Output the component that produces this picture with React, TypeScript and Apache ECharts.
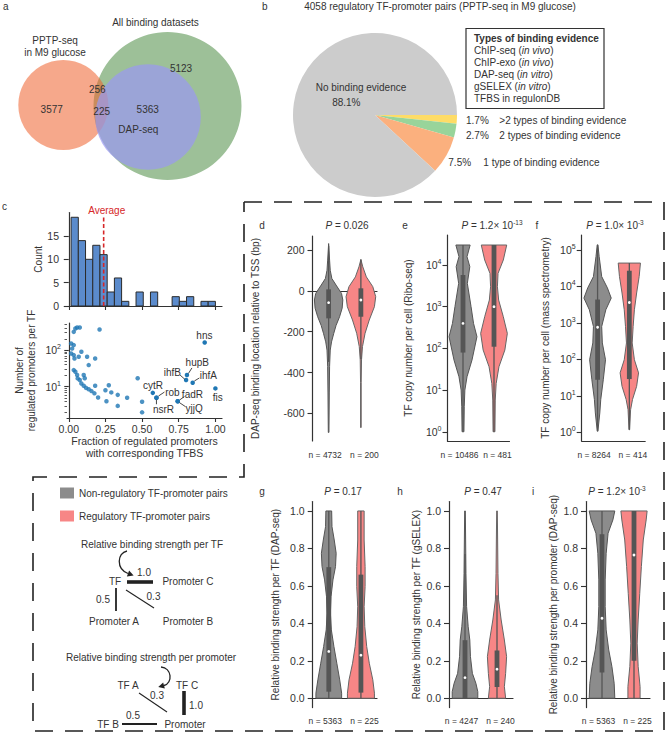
import React, { useEffect, useRef } from 'react';
import * as echarts from 'echarts';

const FONT = '"Liberation Sans", Arial, Helvetica, sans-serif';
const TXT = '#333333';
const AX = '#333333';
const GRAY = '#8c8c8c';
const PINK = '#f78686';

// ---------- a: Venn ----------
const vennSetNames = ['PPTP-seq\nin M9 glucose', 'All binding datasets', 'DAP-seq'];
// regions: PPTP only, PPTP∩All (not DAP), PPTP∩DAP, All only, DAP only
const vennRegionValues = [3577, 256, 225, 5123, 5363];

// ---------- b: pie ----------
const pieTitle = '4058 regulatory TF-promoter pairs (PPTP-seq in M9 glucose)';
const pieCategories = ['>2 types of binding evidence', '2 types of binding evidence', '1 type of binding evidence', 'No binding evidence'];
const piePercents = [1.7, 2.7, 7.5, 88.1];
const evidenceTypes = ['ChIP-seq', 'ChIP-exo', 'DAP-seq', 'gSELEX', 'TFBS in regulonDB'];
const evidenceModes = ['in vivo', 'in vivo', 'in vitro', 'in vitro', ''];

// ---------- c: histogram + scatter ----------
const histCounts = [19, 14, 10, 13, 11, 3, 6, 1, 0, 3, 0, 3, 0, 0, 2, 1, 2, 0, 1, 1];
const histBinStart = 0.016;
const histBinWidth = 0.0492;
const histAverage = 0.238;
const histYTicks = [0, 5, 10, 15];
const fracTicks = [0, 0.25, 0.5, 0.75, 1.0];
const scatterX = [0.016, 0.023, 0.034, 0.016, 0.034, 0.039, 0.068, 0.086, 0.125, 0.136, 0.18, 0.034, 0.045, 0.057, 0.075, 0.21,
  0.034, 0.045, 0.057, 0.061, 0.075, 0.086, 0.102, 0.118, 0.136, 0.155, 0.175, 0.102, 0.109, 0.18, 0.2, 0.25, 0.257, 0.273,
  0.29, 0.334, 0.334, 0.398, 0.47, 0.5, 0.5];
const scatterY = [152, 110, 137, 81, 73, 59, 66, 90, 66, 39, 59, 315, 390, 415, 415, 365,
  28.5, 25.6, 20.9, 16.9, 15.2, 12.3, 10.6, 9.3, 8.5, 7.6, 6.6, 21, 17, 10.6, 5.1, 8, 4, 11,
  7.0, 6.0, 3.0, 5.0, 17, 3.9, 2.0];
const labeledNames = ['hns', 'hupB', 'ihfB', 'ihfA', 'cytR', 'rob', 'nsrR', 'fadR', 'yjjQ', 'fis'];
const labeledX = [0.927, 0.806, 0.8, 0.845, 0.573, 0.598, 0.598, 0.743, 0.743, 1.0];
const labeledY = [162, 21, 15.2, 12.9, 6.8, 5.0, 5.0, 4.0, 4.0, 9.0];
const scatterYTicks = [10, 100];
const scatterMinorTicks = [2, 3, 4, 5, 6, 7, 8, 9, 20, 30, 40, 50, 60, 70, 80, 90, 200, 300, 400, 500];

// ---------- d ----------
const dCats = ['n = 4732', 'n = 200'];
const dGrayY = [231, 150, 100, 60, 28, -13, -45, -85, -127, -170, -208, -250, -290, -370, -500, -693];
const dGrayW = [0, 0.03, 0.05, 0.1, 0.23, 0.4, 0.44, 0.42, 0.34, 0.23, 0.16, 0.09, 0.05, 0.03, 0.02, 0.01];
const dGrayBox = [-348, -135, -58, 7, 220];
const dPinkY = [153, 117, 68, 20, -29, -78, -143, -208, -273, -338, -450, -669];
const dPinkW = [0, 0.06, 0.17, 0.37, 0.46, 0.42, 0.26, 0.13, 0.05, 0.02, 0.01, 0.01];
const dPinkBox = [-335, -127, -45, 12, 153];
const dTicks = [-600, -400, -200, 0, 200];

// ---------- e (log10 values) ----------
const eCats = ['n = 10486', 'n = 481'];
const eGrayLogY = [4.48, 4.2, 3.96, 3.56, 3.0, 2.6, 2.28, 1.72, 1.32, 1.0, 0.6, 0.0];
const eGrayW = [0.23, 0.13, 0.22, 0.14, 0.26, 0.34, 0.45, 0.29, 0.13, 0.06, 0.04, 0.03];
const eGrayBox = [0.0, 1.9, 2.6, 3.76, 4.48];
const ePinkLogY = [4.48, 4.12, 3.8, 3.48, 3.16, 2.76, 2.36, 1.96, 1.56, 1.16, 0.76, 0.0];
const ePinkW = [0.41, 0.3, 0.13, 0.11, 0.15, 0.3, 0.43, 0.35, 0.16, 0.07, 0.04, 0.03];
const ePinkBox = [0.0, 2.04, 3.0, 4.48, 4.48];
const eTicks = [1, 10, 100, 1000, 10000];

// ---------- f (log10 values) ----------
const fCats = ['n = 8264', 'n = 414'];
const fGrayLogY = [5.14, 4.82, 4.27, 3.96, 3.68, 3.36, 2.9, 2.45, 1.99, 1.44, 0.9, 0.53, 0.03];
const fGrayW = [0.01, 0.05, 0.13, 0.31, 0.43, 0.26, 0.13, 0.15, 0.25, 0.18, 0.1, 0.07, 0.01];
const fGrayBox = [0.03, 1.44, 2.88, 3.64, 5.14];
const fPinkLogY = [4.64, 4.27, 3.82, 3.36, 2.9, 2.45, 1.99, 1.63, 1.26, 0.9, 0.62, 0.07];
const fPinkW = [0.35, 0.31, 0.23, 0.16, 0.12, 0.09, 0.16, 0.29, 0.23, 0.1, 0.04, 0.01];
const fPinkBox = [0.07, 1.46, 3.56, 4.43, 4.64];
const fTicks = [1, 10, 100, 1000, 10000, 100000];

// ---------- g ----------
const gCats = ['n = 5363', 'n = 225'];
const gGrayY = [1.0, 0.916, 0.845, 0.774, 0.703, 0.632, 0.542, 0.454, 0.365, 0.276, 0.187, 0.098, 0.027, 0.0];
const gGrayW = [0.09, 0.1, 0.17, 0.23, 0.21, 0.13, 0.07, 0.05, 0.08, 0.16, 0.25, 0.34, 0.4, 0.4];
const gGrayBox = [0, 0.035, 0.25, 0.7, 1.0];
const gPinkY = [1.0, 0.845, 0.703, 0.596, 0.489, 0.382, 0.276, 0.187, 0.098, 0.027, 0.0];
const gPinkW = [0.1, 0.1, 0.13, 0.13, 0.1, 0.12, 0.18, 0.26, 0.37, 0.42, 0.42];
const gPinkBox = [0, 0.03, 0.23, 0.66, 1.0];

// ---------- h ----------
const hCats = ['n = 4247', 'n = 240'];
const hGrayY = [1.0, 0.845, 0.667, 0.489, 0.382, 0.311, 0.222, 0.133, 0.08, 0.035, 0.0];
const hGrayW = [0.01, 0.02, 0.03, 0.05, 0.1, 0.15, 0.17, 0.23, 0.34, 0.4, 0.4];
const hGrayBox = [0, 0, 0.11, 0.31, 0.77];
const hPinkY = [1.0, 0.845, 0.667, 0.525, 0.418, 0.311, 0.222, 0.133, 0.062, 0.0];
const hPinkW = [0.01, 0.02, 0.03, 0.05, 0.13, 0.23, 0.3, 0.27, 0.23, 0.27];
const hPinkBox = [0, 0.06, 0.155, 0.255, 0.55];

// ---------- i ----------
const iCats = ['n = 5363', 'n = 225'];
const iGrayY = [1.0, 0.952, 0.881, 0.774, 0.632, 0.489, 0.365, 0.258, 0.169, 0.08, 0.0];
const iGrayW = [0.4, 0.34, 0.19, 0.13, 0.1, 0.1, 0.13, 0.21, 0.31, 0.38, 0.4];
const iGrayBox = [0, 0.137, 0.427, 0.876, 1.0];
const iPinkY = [1.0, 0.952, 0.845, 0.703, 0.56, 0.418, 0.294, 0.169, 0.062, 0.0];
const iPinkW = [0.41, 0.38, 0.29, 0.23, 0.18, 0.13, 0.1, 0.13, 0.19, 0.19];
const iPinkBox = [0, 0.2, 0.765, 1.0, 1.0];
const fracStrengthTicks = [0, 0.2, 0.4, 0.6, 0.8, 1.0];

// diagram edge weights
const perTfWeights = [1.0, 0.5, 0.3];
const perPromoterWeights = [1.0, 0.3, 0.5];

const NONREG = 'Non-regulatory TF-promoter pairs';
const REG = 'Regulatory TF-promoter pairs';

const richBase = {
  it: { fontStyle: 'italic', fontSize: 10, fontFamily: FONT, fill: TXT, color: TXT },
  sup: { fontSize: 6.5, fontFamily: FONT, fill: TXT, color: TXT, padding: [0, 0, 6, 0] },
  b: { fontWeight: 'bold', fontSize: 10, fontFamily: FONT, fill: TXT, color: TXT },
  n: { fontSize: 10, fontFamily: FONT, fill: TXT, color: TXT },
};

function T(text: string, x: number, y: number, extra: any = {}) {
  return {
    type: 'text', x, y, silent: true, z: 50,
    style: { text, fill: TXT, fontSize: 10, fontFamily: FONT, align: 'center', verticalAlign: 'middle', rich: richBase, ...extra },
  };
}

function L(x1: number, y1: number, x2: number, y2: number, w: number, color = '#222') {
  return { type: 'line', silent: true, z: 50, shape: { x1, y1, x2, y2 }, style: { stroke: color, lineWidth: w } };
}

function arrow(s: number[], c1: number[], c2: number[], e: number[]) {
  const dx = e[0] - c2[0], dy = e[1] - c2[1];
  const len = Math.sqrt(dx * dx + dy * dy);
  const ux = dx / len, uy = dy / len;
  const px = -uy, py = ux;
  const tip = [e[0] + ux * 6, e[1] + uy * 6];
  return [
    { type: 'bezierCurve', silent: true, z: 50, shape: { x1: s[0], y1: s[1], cpx1: c1[0], cpy1: c1[1], cpx2: c2[0], cpy2: c2[1], x2: e[0], y2: e[1] }, style: { stroke: '#222', lineWidth: 1.3, fill: null } },
    { type: 'polygon', silent: true, z: 50, shape: { points: [tip, [e[0] + px * 3.2, e[1] + py * 3.2], [e[0] - px * 3.2, e[1] - py * 3.2]] }, style: { fill: '#222' } },
  ];
}

function violin(name: string, xi: number, cat: number, ys: number[], ws: number[], box: number[], isLog: boolean, fill: string, stroke: string) {
  const tv = (v: number) => (isLog ? Math.pow(10, v) : v);
  return {
    type: 'custom', name, xAxisIndex: xi, yAxisIndex: xi, clip: false, silent: true,
    itemStyle: { color: fill },
    encode: { x: 0, y: 1 },
    data: [[cat, tv(box[2])]],
    renderItem: (params: any, api: any) => {
      const a0 = api.coord([0, tv(box[2])]);
      const a1 = api.coord([1, tv(box[2])]);
      const bw = a1[0] - a0[0];
      const pts: number[][] = [];
      for (let i = 0; i < ys.length; i++) {
        const p = api.coord([cat, tv(ys[i])]);
        pts.push([p[0] + ws[i] * bw, p[1]]);
      }
      for (let i = ys.length - 1; i >= 0; i--) {
        const p = api.coord([cat, tv(ys[i])]);
        pts.push([p[0] - ws[i] * bw, p[1]]);
      }
      const lo = api.coord([cat, tv(box[0])]);
      const q1 = api.coord([cat, tv(box[1])]);
      const md = api.coord([cat, tv(box[2])]);
      const q3 = api.coord([cat, tv(box[3])]);
      const hi = api.coord([cat, tv(box[4])]);
      const x = md[0];
      return {
        type: 'group',
        children: [
          { type: 'polygon', shape: { points: pts }, style: { fill, stroke, lineWidth: 1 } },
          { type: 'line', shape: { x1: x, y1: lo[1], x2: x, y2: hi[1] }, style: { stroke: '#555', lineWidth: 1.3 } },
          { type: 'rect', shape: { x: x - 2.4, y: q3[1], width: 4.8, height: Math.max(q1[1] - q3[1], 0.5) }, style: { fill: '#555' } },
          { type: 'circle', shape: { cx: x, cy: md[1], r: 1.4 }, style: { fill: '#fff' } },
        ],
      };
    },
  };
}

const axisLine = { show: true, lineStyle: { color: AX, width: 1.2 } };
const tickStyle = { color: AX, width: 1.1 };
const supFmt = (v: number) => '10{sup|' + Math.round(Math.log10(v)) + '}';
const labelRich = {
  sup: { fontSize: 7, fontFamily: FONT, color: TXT, padding: [0, 0, 7, 0] },
};

function vx(gi: number, cats: string[]) {
  return {
    type: 'category', gridIndex: gi, data: cats, boundaryGap: true,
    axisLine, axisTick: { show: false },
    axisLabel: {
      interval: 0, fontSize: 8.5, color: TXT, fontFamily: FONT, margin: 9,
      formatter: (v: string, idx: number) => (idx === 0 ? '{l|' + v + '}' : '{r|' + v + '}'),
      rich: {
        l: { fontSize: 8.5, fontFamily: FONT, color: TXT, padding: [0, 7, 0, 0] },
        r: { fontSize: 8.5, fontFamily: FONT, color: TXT, padding: [0, 0, 0, 7] },
      },
    },
    splitLine: { show: false },
  };
}

function vyLin(gi: number, min: number, max: number, ticks: number[], name: string, gap: number, fmt?: any) {
  return {
    type: 'value', gridIndex: gi, min, max,
    axisLine, axisTick: { show: true, length: 5, lineStyle: tickStyle, customValues: ticks },
    axisLabel: { customValues: ticks, fontSize: 10.5, color: TXT, fontFamily: FONT, margin: 8, formatter: fmt },
    splitLine: { show: false },
    name, nameLocation: 'middle', nameGap: gap,
    nameTextStyle: { fontSize: 10, color: TXT, fontFamily: FONT },
  };
}

function vyLog(gi: number, min: number, max: number, ticks: number[], name: string, gap: number) {
  return {
    type: 'log', logBase: 10, gridIndex: gi, min, max,
    axisLine, axisTick: { show: true, length: 5, lineStyle: tickStyle, customValues: ticks },
    axisLabel: { customValues: ticks, fontSize: 10.5, color: TXT, fontFamily: FONT, margin: 6, formatter: supFmt, rich: labelRich },
    splitLine: { show: false },
    name, nameLocation: 'middle', nameGap: gap,
    nameTextStyle: { fontSize: 10, color: TXT, fontFamily: FONT },
  };
}

function buildOption() {
  // Venn radii proportional to sqrt(set size)
  const [r0, r1, r2, r3, r4] = vennRegionValues;
  const sizes = [r0 + r1 + r2, r1 + r2 + r3 + r4, r2 + r4];
  const k = 0.7064;
  const rad = sizes.map((s) => k * Math.sqrt(s));

  const grids = [
    { left: 67, top: 212.6, width: 155, height: 93.4 },
    { left: 67, top: 323, width: 155, height: 95 },
    { left: 312.5, top: 236, width: 64.5, height: 205 },
    { left: 447.5, top: 235, width: 62, height: 206 },
    { left: 581.7, top: 235, width: 63.5, height: 206 },
    { left: 312.7, top: 501.6, width: 64.3, height: 206 },
    { left: 449, top: 501.6, width: 64, height: 206 },
    { left: 586, top: 501.6, width: 64, height: 206 },
  ];

  const xAxes: any[] = [
    {
      type: 'value', gridIndex: 0, min: -0.012, max: 1.045, axisLine,
      axisTick: { show: true, length: 4, lineStyle: tickStyle, customValues: fracTicks },
      axisLabel: { show: false }, splitLine: { show: false },
    },
    {
      type: 'value', gridIndex: 1, min: -0.012, max: 1.045, axisLine,
      axisTick: { show: true, length: 4, lineStyle: tickStyle, customValues: fracTicks },
      axisLabel: { customValues: fracTicks, formatter: (v: number) => v.toFixed(2), fontSize: 10.5, color: TXT, fontFamily: FONT, margin: 5 },
      splitLine: { show: false },
      name: 'Fraction of regulated promoters\nwith corresponding TFBS', nameLocation: 'middle', nameGap: 17,
      nameTextStyle: { fontSize: 10.5, color: TXT, fontFamily: FONT, lineHeight: 12, verticalAlign: 'top' },
    },
    vx(2, dCats), vx(3, eCats), vx(4, fCats), vx(5, gCats), vx(6, hCats), vx(7, iCats),
  ];

  const yAxes: any[] = [
    vyLin(0, 0, 20, histYTicks, 'Count', 22),
    {
      type: 'log', logBase: 10, gridIndex: 1, min: 1.4, max: 550,
      axisLine, axisTick: { show: true, length: 4.5, lineStyle: tickStyle, customValues: scatterYTicks },
      axisLabel: { customValues: scatterYTicks, fontSize: 10.5, color: TXT, fontFamily: FONT, margin: 6, formatter: supFmt, rich: labelRich },
      splitLine: { show: false },
      name: 'Number of\nregulated promoters per TF', nameLocation: 'middle', nameGap: 30,
      nameTextStyle: { fontSize: 10, color: TXT, fontFamily: FONT, lineHeight: 12 },
    },
    vyLin(2, -735, 268, dTicks, 'DAP-seq binding location relative to TSS (bp)', 52),
    vyLog(3, 0.6, 52500, eTicks, 'TF copy number per cell (Ribo-seq)', 34),
    vyLog(4, 0.577, 257000, fTicks, 'TF copy number per cell (mass spectrometry)', 31),
    vyLin(5, -0.05, 1.05, fracStrengthTicks, 'Relative binding strength per TF (DAP-seq)', 32, (v: number) => v.toFixed(1)),
    vyLin(6, -0.05, 1.05, fracStrengthTicks, 'Relative binding strength per TF (gSELEX)', 28, (v: number) => v.toFixed(1)),
    vyLin(7, -0.05, 1.05, fracStrengthTicks, 'Relative binding strength per promoter (DAP-seq)', 28, (v: number) => v.toFixed(1)),
    {
      type: 'log', logBase: 10, gridIndex: 1, min: 1.4, max: 550, position: 'left', offset: 0,
      axisLine: { show: false },
      axisTick: { show: true, length: 2.5, lineStyle: { color: AX, width: 0.8 }, customValues: scatterMinorTicks },
      axisLabel: { show: false }, splitLine: { show: false },
    },
  ];

  const histData = histCounts.map((c, i) => [histBinStart + i * histBinWidth, histBinStart + (i + 1) * histBinWidth, c]);

  const labelOffsets = [[-0.3, -6.6], [10.3, -12], [-13.7, -8], [15.7, -6.7], [0.2, -7.7], [16, -5.7], [7, 11.6], [14.7, -6.7], [16.4, 7.6], [2.4, 9.4]];
  const leaders: (number[] | null)[] = [null, [1.5, -1.5, 5, -7], [-1.5, -1, -6, -5], [1.7, -1.7, 6.7, -4.7], null, [2, -1.7, 8, -5.7], [0, 2, 0, 6.5], [1.7, -1.2, 6.7, -4.7], [1.7, 1.3, 7.7, 5.3], null];

  const series: any[] = [
    {
      type: 'custom', name: 'hist', xAxisIndex: 0, yAxisIndex: 0, silent: true,
      encode: { x: [0, 1], y: 2 },
      data: histData,
      renderItem: (params: any, api: any) => {
        const c = api.value(2);
        if (!c) return null;
        const a = api.coord([api.value(0), c]);
        const b = api.coord([api.value(1), 0]);
        return { type: 'rect', shape: { x: a[0], y: a[1], width: b[0] - a[0], height: b[1] - a[1] }, style: { fill: '#5b8bcc', stroke: '#2b2b2b', lineWidth: 1 } };
      },
    },
    {
      type: 'line', name: 'avg', xAxisIndex: 0, yAxisIndex: 0, silent: true, symbol: 'none',
      data: [[histAverage, 0], [histAverage, 19.5]],
      lineStyle: { color: '#d62728', width: 1.6, type: [4, 2.5] }, z: 5,
    },
    {
      type: 'scatter', name: 'tfs', xAxisIndex: 1, yAxisIndex: 1, silent: true, symbolSize: 4.5,
      itemStyle: { color: '#1f77b4' },
      data: scatterX.map((x, i) => [x, scatterY[i]]),
    },
    {
      type: 'custom', name: 'labeled', xAxisIndex: 1, yAxisIndex: 1, silent: true, clip: false,
      encode: { x: 0, y: 1 },
      data: labeledX.map((x, i) => [x, labeledY[i], i]),
      renderItem: (params: any, api: any) => {
        const idx = api.value(2);
        const p = api.coord([api.value(0), api.value(1)]);
        const off = labelOffsets[idx];
        const ch: any[] = [
          { type: 'circle', shape: { cx: p[0], cy: p[1], r: 2.25 }, style: { fill: '#1f77b4' } },
          { type: 'text', x: p[0] + off[0], y: p[1] + off[1], style: { text: labeledNames[idx], fill: TXT, fontSize: 10, fontFamily: FONT, align: 'center', verticalAlign: 'middle' } },
        ];
        const ld = leaders[idx];
        if (ld) ch.push({ type: 'line', shape: { x1: p[0] + ld[0], y1: p[1] + ld[1], x2: p[0] + ld[2], y2: p[1] + ld[3] }, style: { stroke: '#333', lineWidth: 0.9 } });
        return { type: 'group', children: ch };
      },
    },
    violin(NONREG, 2, 0, dGrayY, dGrayW, dGrayBox, false, GRAY, '#555'),
    violin(REG, 2, 1, dPinkY, dPinkW, dPinkBox, false, PINK, '#666'),
    violin(NONREG, 3, 0, eGrayLogY, eGrayW, eGrayBox, true, GRAY, '#555'),
    violin(REG, 3, 1, ePinkLogY, ePinkW, ePinkBox, true, PINK, '#666'),
    violin(NONREG, 4, 0, fGrayLogY, fGrayW, fGrayBox, true, GRAY, '#555'),
    violin(REG, 4, 1, fPinkLogY, fPinkW, fPinkBox, true, PINK, '#666'),
    violin(NONREG, 5, 0, gGrayY, gGrayW, gGrayBox, false, GRAY, '#555'),
    violin(REG, 5, 1, gPinkY, gPinkW, gPinkBox, false, PINK, '#666'),
    violin(NONREG, 6, 0, hGrayY, hGrayW, hGrayBox, false, GRAY, '#555'),
    violin(REG, 6, 1, hPinkY, hPinkW, hPinkBox, false, PINK, '#666'),
    violin(NONREG, 7, 0, iGrayY, iGrayW, iGrayBox, false, GRAY, '#555'),
    violin(REG, 7, 1, iPinkY, iPinkW, iPinkBox, false, PINK, '#666'),
    {
      type: 'pie', name: 'evidence', center: [375, 115], radius: 82, startAngle: 0, clockwise: true, silent: true,
      label: { show: false }, labelLine: { show: false },
      itemStyle: { borderWidth: 0 },
      data: pieCategories.map((n, i) => ({ name: n, value: piePercents[i], itemStyle: { color: ['#fedc66', '#98d49a', '#fbb07e', '#cccccc'][i] } })),
    },
  ];

  const g: any[] = [];
  // Venn circles
  g.push({ type: 'circle', silent: true, z: 1, shape: { cx: 167.5, cy: 106, r: rad[1] }, style: { fill: 'rgb(157,192,152)' } });
  g.push({ type: 'circle', silent: true, z: 2, shape: { cx: 63.3, cy: 105, r: rad[0] }, style: { fill: 'rgba(239,97,43,0.55)' } });
  g.push({ type: 'circle', silent: true, z: 3, shape: { cx: 148, cy: 117, r: rad[2] }, style: { fill: 'rgba(154,153,242,0.7)' } });
  g.push(T('a', 3, 6, { align: 'left' }));
  g.push(T(vennSetNames[0], 55, 46, { lineHeight: 12 }));
  g.push(T(vennSetNames[1], 155.5, 22.7));
  g.push(T(vennSetNames[2], 138.3, 129.3));
  const regionPos = [[51.7, 109.3], [97.3, 89.3], [101.7, 111.7], [181, 68.3], [147.7, 109]];
  vennRegionValues.forEach((v, i) => g.push(T(String(v), regionPos[i][0], regionPos[i][1])));

  // b
  g.push(T('b', 262, 6, { align: 'left' }));
  g.push(T(pieTitle, 440, 6));
  g.push(T(pieCategories[3], 361, 87.3));
  g.push(T(piePercents[3].toFixed(1) + '%', 346.3, 102.7));
  const pieLabelPos = [[466, 499.3, 120.7], [466, 499.3, 135], [448.3, 483.3, 162.7]];
  for (let i = 0; i < 3; i++) {
    g.push(T(piePercents[i].toFixed(1) + '%', pieLabelPos[i][0], pieLabelPos[i][2], { align: 'left' }));
    g.push(T(pieCategories[i], pieLabelPos[i][1], pieLabelPos[i][2], { align: 'left' }));
  }
  g.push({ type: 'rect', silent: true, z: 40, shape: { x: 466, y: 28.5, width: 138, height: 80 }, style: { fill: '#fff', stroke: '#333', lineWidth: 1.2 } });
  g.push(T('{b|Types of binding evidence}', 474, 38.3, { align: 'left' }));
  evidenceTypes.forEach((t, i) => {
    const txt = evidenceModes[i] ? '{n|' + t + ' (}{it|' + evidenceModes[i] + '}{n|)}' : '{n|' + t + '}';
    g.push(T(txt, 474, 50.5 + i * 12, { align: 'left' }));
  });

  // c
  g.push(T('c', 2, 206.7, { align: 'left' }));
  g.push(T('Average', 106.7, 210.7, { fill: '#d62728' }));

  // d-i letters and P values
  const pTexts = [
    ['d', 262, 225, '{it|P} = 0.026', 347],
    ['e', 405, 225, '{it|P} = 1.2× 10{sup|-13}', 492],
    ['f', 537, 225, '{it|P} = 1.0× 10{sup|-3}', 615],
    ['g', 262, 491, '{it|P} = 0.17', 343],
    ['h', 400, 491, '{it|P} = 0.47', 483],
    ['i', 533, 491, '{it|P} = 1.2× 10{sup|-3}', 617],
  ];
  pTexts.forEach((p: any) => {
    g.push(T(p[0], p[1], p[2]));
    g.push(T(p[3], p[4], p[2]));
  });

  // dashed frame
  g.push({
    type: 'polyline', silent: true, z: 30,
    shape: { points: [[244, 202], [664, 202], [664, 731], [33, 731], [33, 477], [244, 477], [244, 202]] },
    style: { stroke: '#222', lineWidth: 1.6, lineDash: [18, 12], fill: null },
  });

  // diagrams
  g.push(T('Relative binding strength per TF', 152, 544));
  arrow([127, 551], [117, 553], [116, 569], [128, 573.5]).forEach((e) => g.push(e));
  g.push(T('TF', 115, 581));
  g.push(L(127, 582, 153, 582, perTfWeights[0] * 3.6));
  g.push(T(perTfWeights[0].toFixed(1), 144, 572));
  g.push(T('Promoter C', 188, 581));
  g.push(L(116, 588, 116, 611, perTfWeights[1] * 3.6));
  g.push(T(perTfWeights[1].toFixed(1), 103, 599));
  g.push(L(126, 590, 154, 608, Math.max(perTfWeights[2] * 3.6, 1)));
  g.push(T(perTfWeights[2].toFixed(1), 153.5, 596));
  g.push(T('Promoter A', 114, 621));
  g.push(T('Promoter B', 188, 621));

  g.push(T('Relative binding strength per promoter', 151, 657));
  arrow([161, 667], [172, 668], [173, 683], [164, 685.5]).forEach((e) => g.push(e));
  g.push(T('TF A', 128, 685));
  g.push(T('TF C', 187, 685));
  g.push(L(184, 691, 184, 715, perPromoterWeights[0] * 3.6));
  g.push(T(perPromoterWeights[0].toFixed(1), 196, 705));
  g.push(L(139, 693, 167, 712, Math.max(perPromoterWeights[1] * 3.6, 1)));
  g.push(T(perPromoterWeights[1].toFixed(1), 157, 695));
  g.push(T('TF B', 108, 724));
  g.push(L(122, 724, 157, 724, perPromoterWeights[2] * 3.6));
  g.push(T(perPromoterWeights[2].toFixed(1), 133, 715));
  g.push(T('Promoter', 185, 724));

  return {
    animation: false,
    backgroundColor: '#ffffff',
    textStyle: { fontFamily: FONT },
    grid: grids,
    xAxis: xAxes,
    yAxis: yAxes,
    legend: {
      data: [NONREG, REG], left: 55, top: 482.5, orient: 'vertical', icon: 'rect',
      itemWidth: 14, itemHeight: 11, itemGap: 12, selectedMode: false,
      textStyle: { fontSize: 10, color: TXT, fontFamily: FONT },
    },
    series,
    graphic: { elements: g },
  };
}

export default function App() {
  const ref = useRef<HTMLDivElement>(null);
  useEffect(() => {
    const chart = echarts.init(ref.current as HTMLDivElement, null, { renderer: 'svg' });
    chart.setOption(buildOption() as any);
    return () => chart.dispose();
  }, []);
  return <div ref={ref} style={{ position: 'absolute', left: 0, top: 0, width: 667, height: 733, background: '#fff' }} />;
}
